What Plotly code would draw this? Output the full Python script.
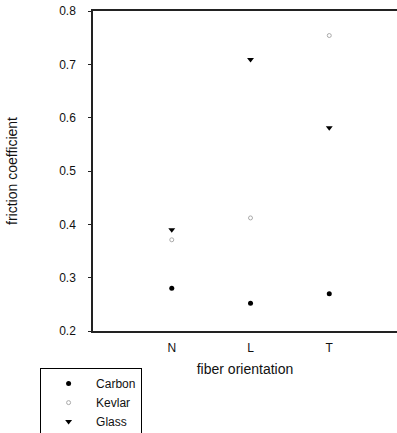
import plotly.graph_objects as go

categories = ["N", "L", "T"]
cat_pos = [1, 2, 3]
carbon = [0.280, 0.252, 0.270]
kevlar = [0.371, 0.412, 0.754]
glass = [0.390, 0.709, 0.581]
y_ticks = [0.2, 0.3, 0.4, 0.5, 0.6, 0.7, 0.8]
y_tick_text = ["0.2", "0.3", "0.4", "0.5", "0.6", "0.7", "0.8"]

FONT = "Liberation Sans, Arial, sans-serif"

fig = go.Figure()
fig.add_trace(go.Scatter(x=cat_pos, y=carbon, mode="markers", name="Carbon",
                         marker=dict(symbol="circle", size=5, color="black")))
fig.add_trace(go.Scatter(x=cat_pos, y=kevlar, mode="markers", name="Kevlar",
                         marker=dict(symbol="circle-open", size=4, color="#aaaaaa",
                                     line=dict(width=1, color="#aaaaaa"))))
fig.add_trace(go.Scatter(x=cat_pos, y=glass, mode="markers", name="Glass",
                         marker=dict(symbol="triangle-down", size=6, color="black")))

fig.update_layout(
    width=397, height=433,
    margin=dict(l=93, r=0, t=11, b=102, autoexpand=False),
    plot_bgcolor="white", paper_bgcolor="white",
    font=dict(family=FONT, size=12, color="#111111"),
    showlegend=True,
    legend=dict(x=-0.174, y=-0.116, xanchor="left", yanchor="top",
                bordercolor="black", borderwidth=1, bgcolor="white",
                font=dict(size=12), itemwidth=45),
    xaxis=dict(range=[0, 3.86], tickvals=cat_pos, ticktext=categories,
               showgrid=False, zeroline=False, showline=True, mirror=True,
               linecolor="#222222", linewidth=1.5, ticks="",
               ticklabelstandoff=5,
               title=dict(text="fiber orientation", font=dict(size=14), standoff=10)),
    yaxis=dict(range=[0.2, 0.8], tickvals=y_ticks, ticktext=y_tick_text,
               showgrid=False, zeroline=False, showline=True, mirror=False,
               linecolor="#222222", linewidth=1.5, ticks="outside", ticklen=3,
               tickcolor="#222222", ticklabelstandoff=10, ticklabeloverflow="allow",
               title=dict(text="friction coefficient", font=dict(size=14), standoff=38)),
)

fig.write_html("out.html", config={"displayModeBar": False},
               post_script="document.body.style.margin='0';")
